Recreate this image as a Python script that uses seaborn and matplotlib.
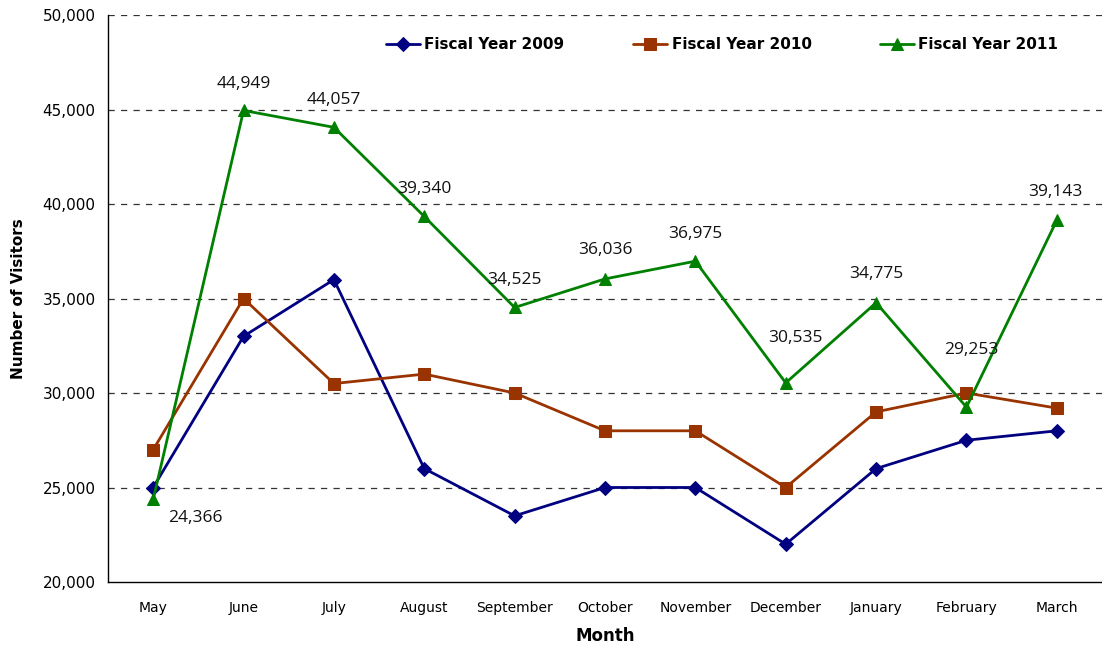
import numpy as np
import pandas as pd
import matplotlib
matplotlib.use("Agg")
import matplotlib.pyplot as plt
import seaborn as sns

# Daten
months = ["May", "June", "July", "August", "September", "October",
          "November", "December", "January", "February", "March"]
fy2009 = [25000, 33000, 36000, 26000, 23500, 25000, 25000, 22000, 26000, 27500, 28000]
fy2010 = [27000, 35000, 30500, 31000, 30000, 28000, 28000, 25000, 29000, 30000, 29200]
fy2011 = [24366, 44949, 44057, 39340, 34525, 36036, 36975, 30535, 34775, 29253, 39143]
series_names = ["Fiscal Year 2009", "Fiscal Year 2010", "Fiscal Year 2011"]

# label offsets in pixels (dx, dy) for FY2011 values
label_offsets = [(42, -19), (0, 26), (0, 27), (0, 27), (0, 27), (0, 29),
                 (0, 27), (10, 45), (0, 29), (5, 57), (-1, 28)]

df = pd.DataFrame({
    "idx": np.tile(np.arange(len(months)), 3),
    "visitors": fy2009 + fy2010 + fy2011,
    "series": np.repeat(series_names, len(months)),
})

sns.set_style("white")
fig = plt.figure(figsize=(11.02, 6.48), dpi=100)
ax = fig.add_axes([108 / 1102, 1 - 582 / 648, 1 - 108 / 1102, (582 - 15) / 648])

palette = {"Fiscal Year 2009": "#000080", "Fiscal Year 2010": "#993300",
           "Fiscal Year 2011": "#008000"}
markers = {"Fiscal Year 2009": "D", "Fiscal Year 2010": "s",
           "Fiscal Year 2011": "^"}
sizes = {"Fiscal Year 2009": 7, "Fiscal Year 2010": 8, "Fiscal Year 2011": 9}

for name in series_names:
    sub = df[df["series"] == name]
    sns.lineplot(data=sub, x="idx", y="visitors", ax=ax, color=palette[name],
                 marker=markers[name], markersize=sizes[name],
                 markeredgecolor=palette[name], linewidth=2, label=name)

for i, v in enumerate(fy2011):
    dx, dy = label_offsets[i]
    ax.annotate(f"{v:,}", (i, v), xytext=(dx, dy), textcoords="offset pixels",
                ha="center", va="center", fontsize=12.5, family="Open Sans",
                color="#111111")

ax.set_ylim(20000, 50000)
ax.set_xlim(-0.5, 10.42)
ax.set_yticks(np.arange(20000, 50001, 5000))
ax.set_yticklabels([f"{t:,}" for t in range(20000, 50001, 5000)],
                   fontsize=11, family="DejaVu Sans")
ax.set_xticks(np.arange(len(months)))
ax.set_xticklabels(months, fontsize=10, family=["Liberation Sans Narrow", "DejaVu Sans"])
ax.set_xticks(np.arange(len(months)) + 0.5, minor=True)
ax.tick_params(axis="x", which="major", length=0, pad=14, labelcolor="black")
ax.tick_params(axis="x", which="minor", length=5, direction="out", width=1)
ax.tick_params(axis="y", length=5, direction="out", width=1, pad=4, labelcolor="black")

for t in np.arange(25000, 50001, 5000):
    ax.axhline(t, color="#333333", linestyle=(0, (5, 5)), linewidth=0.9, zorder=0)

for s in ["top", "right"]:
    ax.spines[s].set_visible(False)
for s in ["left", "bottom"]:
    ax.spines[s].set_color("black")
    ax.spines[s].set_linewidth(1)

ax.set_xlabel("Month", fontsize=12, fontweight="bold", labelpad=8, color="black")
ax.set_ylabel("Number of Visitors", fontsize=11, fontweight="bold", labelpad=12,
              color="black")

leg = ax.legend(loc="upper center", bbox_to_anchor=(0.618, 0.985), ncol=3,
                frameon=False, fontsize=11, handlelength=2.2, columnspacing=4.5,
                handletextpad=0.3)
for txt in leg.get_texts():
    txt.set_fontweight("bold")
    txt.set_color("black")

fig.savefig("out.png", dpi=100)
